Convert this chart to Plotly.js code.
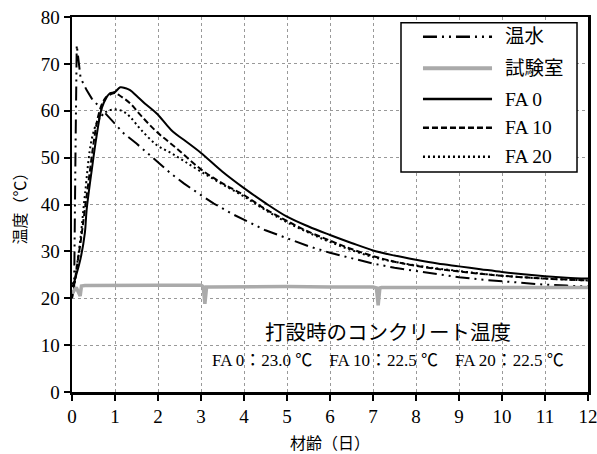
<!DOCTYPE html>
<html>
<head>
<meta charset="utf-8">
<script src="https://cdn.plot.ly/plotly-3.0.1.min.js"></script>
<style>html,body{margin:0;padding:0;background:#fff;}#chart{width:597px;height:454px;}</style>
</head>
<body>
<div id="chart"></div>
<script>
// 温水 (warm water)
var warmX = [0, 0.05, 0.08, 0.11, 0.2, 0.34, 0.46, 0.6, 0.73, 0.88, 1.04, 1.2, 1.5, 1.8, 2.0, 2.3, 2.6, 3.0, 3.3, 3.7, 4.0, 4.5, 5.0, 5.5, 6.0, 6.5, 7.0, 7.5, 8.0, 8.5, 9.0, 9.5, 10.0, 10.5, 11.0, 11.5, 12.0];
var warmY = [20, 22, 50, 74, 67, 64.4, 62.6, 61.2, 59.8, 58.4, 56.7, 55.2, 53, 50.5, 49, 46.6, 44.5, 42, 40.2, 38.1, 36.7, 34.5, 32.8, 31.1, 29.7, 28.6, 27.4, 26.5, 25.8, 25.1, 24.5, 24.0, 23.6, 23.2, 22.9, 22.7, 22.5];
// 試験室 (room)
var roomX = [0, 0.1, 0.19, 0.22, 0.3, 1, 2, 3, 3.05, 3.09, 3.13, 3.2, 4, 5, 6, 7, 7.08, 7.12, 7.16, 7.2, 8, 9, 10, 11, 12];
var roomY = [21, 22.3, 20.5, 22.6, 22.7, 22.8, 22.8, 22.8, 22.5, 18.8, 22.4, 22.4, 22.5, 22.5, 22.4, 22.4, 22.2, 18.5, 22.2, 22.3, 22.3, 22.3, 22.2, 22.2, 22.3];
// FA 0
var fa0X = [0, 0.05, 0.1, 0.2, 0.3, 0.34, 0.46, 0.57, 0.69, 0.8, 0.88, 1.0, 1.12, 1.25, 1.35, 1.5, 1.7, 1.97, 2.2, 2.35, 2.6, 3.0, 3.5, 4.0, 4.5, 5.0, 5.5, 6.0, 6.5, 7.0, 7.5, 8.0, 8.5, 9.0, 9.5, 10.0, 10.5, 11.0, 11.5, 12.0];
var fa0Y = [23, 23.5, 25, 28.5, 34, 38.8, 47.4, 54.5, 60.5, 62.8, 63.7, 64, 65, 64.8, 64.4, 63.2, 61.5, 59.4, 57, 55.5, 53.8, 51, 47, 43.5, 40.3, 37.4, 35.3, 33.5, 31.8, 30.2, 29.1, 28.2, 27.4, 26.8, 26.2, 25.6, 25.1, 24.7, 24.4, 24.2];
// FA 10
var fa10X = [0, 0.05, 0.1, 0.2, 0.3, 0.4, 0.5, 0.6, 0.7, 0.8, 0.9, 1.0, 1.1, 1.35, 1.6, 1.97, 2.43, 3.0, 3.5, 4.0, 4.5, 5.0, 5.5, 6.0, 6.5, 7.0, 7.5, 8.0, 9.0, 10.0, 11.0, 12.0];
var fa10Y = [22.5, 23, 26, 32, 39, 46, 53, 58.5, 61.5, 63, 63.5, 63.8, 63.3, 61.6, 59, 55.5, 52, 47.5, 44.5, 42, 39, 36.5, 34.2, 32.3, 30.5, 29, 27.8, 26.9, 25.7, 24.8, 24.2, 23.8];
// FA 20
var fa20X = [0, 0.05, 0.1, 0.2, 0.3, 0.46, 0.6, 0.8, 1.0, 1.2, 1.35, 1.6, 1.97, 2.3, 2.6, 3.0, 3.5, 4.0, 4.5, 5.0, 5.5, 6.0, 7.0, 8.0, 9.0, 10.0, 11.0, 12.0];
var fa20Y = [22.5, 23, 26, 33, 42, 54, 57.8, 59.8, 60.3, 59.8, 58.7, 56, 52.7, 51, 49.3, 47, 44.3, 41.7, 38.8, 36.2, 34, 32, 28.8, 27, 25.8, 24.8, 24.2, 23.8];

var seriesNames = ['温水', '試験室', 'FA 0', 'FA 10', 'FA 20'];
var xTicks = [0,1,2,3,4,5,6,7,8,9,10,11,12];
var yTicks = [0,10,20,30,40,50,60,70,80];

var FONT = 'Liberation Serif, Noto Sans CJK JP, serif';
var styles = [
  {color: '#000', width: 2, dash: '14px,5px,2px,5px,2px,5px'},
  {color: '#aaaaaa', width: 3.5},
  {color: '#000', width: 2},
  {color: '#000', width: 2, dash: '6px,3px'},
  {color: '#000', width: 2, dash: '2px,3px'}
];
var xs = [warmX, roomX, fa0X, fa10X, fa20X];
var ys = [warmY, roomY, fa0Y, fa10Y, fa20Y];

var traces = xs.map(function (x, i) {
  var ln = Object.assign({}, styles[i]);
  if (i >= 2) ln.shape = 'spline';
  return {x: x, y: ys[i], name: seriesNames[i], mode: 'lines', line: ln, showlegend: false};
});

// legend box (paper coordinates)
var L = {x0: 0.6376, x1: 0.9787, yTop: 0.9848, yBot: 0.5867, lineX0: 0.6802, lineX1: 0.8140, textX: 0.8353};
var rowY = [0.9475, 0.8632, 0.7813, 0.7048, 0.6275];
var shapes = [{type: 'rect', xref: 'paper', yref: 'paper', x0: L.x0, x1: L.x1, y0: L.yBot, y1: L.yTop, line: {color: '#000', width: 1.5}, fillcolor: '#fff', layer: 'above'}];
var annotations = [];
seriesNames.forEach(function (n, i) {
  var ln = {color: styles[i].color, width: styles[i].width + 0.5};
  if (styles[i].dash) ln.dash = styles[i].dash;
  shapes.push({type: 'line', xref: 'paper', yref: 'paper', x0: L.lineX0, x1: L.lineX1, y0: rowY[i], y1: rowY[i], line: ln, layer: 'above'});
  annotations.push({xref: 'paper', yref: 'paper', x: L.textX, y: rowY[i], text: n, showarrow: false, xanchor: 'left', yanchor: 'middle', font: {family: FONT, size: 19.5, color: '#000'}});
});
annotations.push({xref: 'paper', yref: 'paper', x: 0.612, y: 0.157, text: '打設時のコンクリート温度', showarrow: false, font: {size: 20.5, family: FONT, color: '#000'}, xanchor: 'center', yanchor: 'middle'});
annotations.push({xref: 'paper', yref: 'paper', x: 0.612, y: 0.085, text: 'FA 0：23.0 ℃　FA 10：22.5 ℃　FA 20：22.5 ℃', showarrow: false, font: {size: 17, family: FONT, color: '#000'}, xanchor: 'center', yanchor: 'middle'});

var layout = {
  width: 597, height: 454,
  margin: {l: 72, r: 9, t: 17, b: 62},
  paper_bgcolor: '#fff', plot_bgcolor: '#fff',
  font: {family: FONT, color: '#000', size: 16},
  showlegend: false,
  xaxis: {
    range: [0, 12], tickvals: xTicks, ticktext: xTicks.map(String),
    showline: true, linecolor: '#000', linewidth: 2.5, mirror: true,
    ticks: 'outside', ticklen: 6, tickwidth: 2, tickcolor: '#000',
    showgrid: true, gridcolor: '#999', griddash: 'dot', gridwidth: 1,
    zeroline: false, tickfont: {family: FONT, size: 19, color: '#000'},
    ticklabeloverflow: 'allow',
    title: {text: '材齢（日）', font: {family: FONT, size: 16, color: '#000'}, standoff: 12}
  },
  yaxis: {
    range: [0, 80], tickvals: yTicks, ticktext: yTicks.map(String),
    showline: true, linecolor: '#000', linewidth: 2.5, mirror: true,
    ticks: 'outside', ticklen: 6, tickwidth: 2, tickcolor: '#000',
    showgrid: true, gridcolor: '#999', griddash: 'dot', gridwidth: 1,
    zeroline: false, tickfont: {family: FONT, size: 19, color: '#000'},
    ticklabeloverflow: 'allow',
    title: {text: '温度（℃）', font: {family: FONT, size: 16, color: '#000'}, standoff: 10}
  },
  shapes: shapes,
  annotations: annotations
};

Plotly.newPlot('chart', traces, layout, {displayModeBar: false, staticPlot: true});
</script>
</body>
</html>
